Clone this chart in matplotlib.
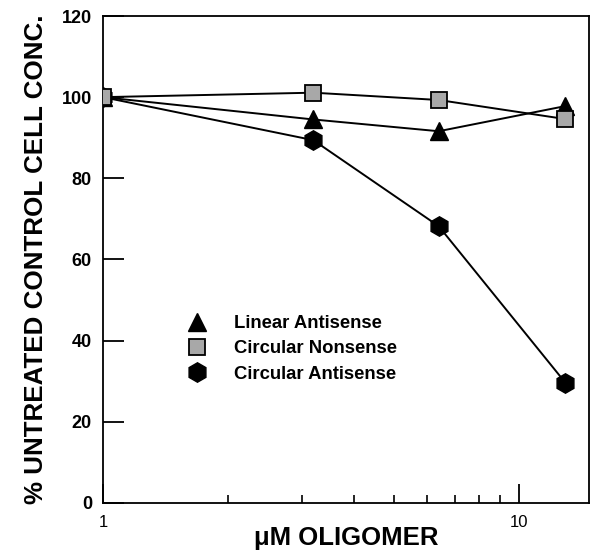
import matplotlib
matplotlib.use("Agg")
import matplotlib.pyplot as plt
from matplotlib.ticker import FixedLocator, NullFormatter, LogLocator

plt.rcParams['font.family'] = ['Liberation Sans', 'DejaVu Sans']

conc = [1.0, 3.2, 6.4, 12.9]
linear_antisense = [100, 94.5, 91.6, 97.8]
circular_nonsense = [100, 101.1, 99.3, 94.6]
circular_antisense = [100, 89.4, 68.2, 29.6]
yticks = [0, 20, 40, 60, 80, 100, 120]
xticks = [1, 10]

fig = plt.figure(figsize=(5.92, 5.52), dpi=100)
ax = fig.add_axes([0.174, 0.089, 0.821, 0.882])

ax.plot(conc, circular_antisense, color='black', lw=1.4, marker='h', ms=14,
        mfc='black', mec='black', label='Circular Antisense', zorder=3)
ax.plot(conc, linear_antisense, color='black', lw=1.4, marker='^', ms=13,
        mfc='black', mec='black', label='Linear Antisense', zorder=4)
ax.plot(conc, circular_nonsense, color='black', lw=1.4, marker='s', ms=11,
        mfc='#a8a8a8', mec='black', mew=1.3, label='Circular Nonsense', zorder=5)

ax.set_xscale('log')
ax.set_xlim(1, 14.7)
ax.set_ylim(0, 120)

ax.set_yticks(yticks)
ax.set_yticklabels([str(t) for t in yticks], fontsize=13, fontweight='bold')
ax.tick_params(axis='y', direction='in', length=15, width=1.3, pad=8, right=False)

ax.xaxis.set_major_locator(FixedLocator(xticks))
ax.set_xticklabels([str(t) for t in xticks], fontsize=12)
ax.xaxis.set_minor_locator(LogLocator(base=10, subs=range(2, 10)))
ax.xaxis.set_minor_formatter(NullFormatter())
ax.tick_params(axis='x', which='major', direction='in', length=14, width=1.3, pad=9, top=False)
ax.tick_params(axis='x', which='minor', direction='in', length=6, width=1.2, top=False)

for s in ax.spines.values():
    s.set_linewidth(1.3)

ax.set_ylabel('% UNTREATED CONTROL CELL CONC.', fontsize=18.7, fontweight='bold', labelpad=10)
ax.set_xlabel('\u03bcM OLIGOMER', fontsize=18.5, fontweight='bold')
ax.xaxis.set_label_coords(0.5, -0.047)

handles, labels = ax.get_legend_handles_labels()
order = [1, 2, 0]
leg = ax.legend([handles[i] for i in order], [labels[i] for i in order],
                loc='upper left', bbox_to_anchor=(0.16, 0.42), frameon=False,
                handlelength=0, handletextpad=2.0, numpoints=1, labelspacing=0.45,
                prop={'size': 13.3, 'weight': 'bold'})
for h in leg.legend_handles:
    h.set_linestyle('none')

fig.savefig('out.png', dpi=100)
